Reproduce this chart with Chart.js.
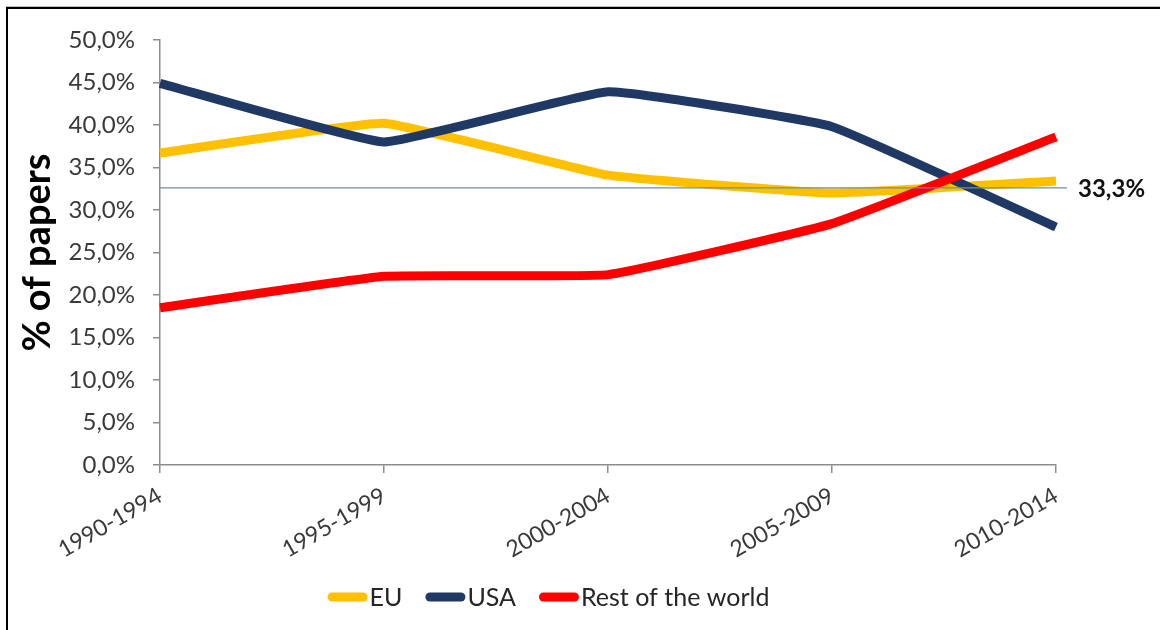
<!DOCTYPE html>
<html>
<head>
<meta charset="utf-8">
<script src="https://cdn.jsdelivr.net/npm/chart.js@4/dist/chart.umd.min.js"></script>
<style>
  html, body { margin: 0; padding: 0; background: #fff; }
  #wrap { position: relative; width: 1160px; height: 630px; overflow: hidden; }
  #frame { position: absolute; left: 6px; top: 7px; width: 2000px; height: 2000px;
           border-top: 2px solid #000; border-left: 2px solid #000;
           box-shadow: 0 -1px 0 #bdbdbd; }
  canvas { position: absolute; left: 0; top: 0; }
</style>
</head>
<body>
<div id="wrap">
  <div id="frame"></div>
  <canvas id="c" width="1160" height="630"></canvas>
</div>
<script>
const categories = ['1990-1994', '1995-1999', '2000-2004', '2005-2009', '2010-2014'];
const euValues   = [36.7, 40.2, 34.1, 32.0, 33.4];
const usaValues  = [44.9, 38.0, 43.9, 39.8, 28.0];
const rowValues  = [18.5, 22.2, 22.4, 28.4, 38.6];
const seriesNames = ['EU', 'USA', 'Rest of the world'];
const referenceValue = 32.6;
const referenceLabel = '33,3%';
const yTickValues = [0, 5, 10, 15, 20, 25, 30, 35, 40, 45, 50];

const FONT = 'Lato, "Open Sans", sans-serif';
const COLORS = ['#FFC000', '#1F3864', '#FF0000'];

const refLinePlugin = {
  id: 'refLine',
  afterDatasetsDraw(chart) {
    const ctx = chart.ctx, ca = chart.chartArea, y = chart.scales.y.getPixelForValue(referenceValue);
    ctx.save();
    ctx.strokeStyle = '#6f8ea3';
    ctx.lineWidth = 1.2;
    ctx.beginPath();
    ctx.moveTo(ca.left, y);
    ctx.lineTo(ca.right + 11, y);
    ctx.stroke();
    ctx.fillStyle = '#111';
    ctx.font = 'bold 24px ' + FONT;
    ctx.textBaseline = 'middle';
    ctx.textAlign = 'left';
    ctx.fillText(referenceLabel, ca.right + 22, y + 1);
    ctx.restore();
  }
};

const legendPlugin = {
  id: 'customLegend',
  afterDraw(chart) {
    const ctx = chart.ctx;
    ctx.save();
    ctx.font = '25px ' + FONT;
    const sym = 40, gap = 2, itemGap = 23;
    const items = chart.data.datasets.slice().sort((a, b) => a.legendIndex - b.legendIndex);
    const widths = items.map(d => sym + gap + ctx.measureText(d.label).width);
    const total = widths.reduce((a, b) => a + b, 0) + itemGap * (items.length - 1);
    let x = 548.5 - total / 2;
    const y = 597;
    items.forEach((d, i) => {
      ctx.strokeStyle = d.borderColor;
      ctx.lineWidth = 9;
      ctx.lineCap = 'round';
      ctx.beginPath();
      ctx.moveTo(x + 4.5, y);
      ctx.lineTo(x + sym - 4.5, y);
      ctx.stroke();
      ctx.fillStyle = '#262626';
      ctx.textBaseline = 'middle';
      ctx.textAlign = 'left';
      ctx.fillText(d.label, x + sym + gap, y + 1);
      x += widths[i] + itemGap;
    });
    ctx.restore();
  }
};

const mk = (label, data, color, order, idx) => ({
  label, data, borderColor: color, backgroundColor: color,
  borderWidth: 9, pointRadius: 0, pointHoverRadius: 0, tension: 0.1,
  borderCapStyle: 'butt', borderJoinStyle: 'round', fill: false, order, legendIndex: idx, clip: false
});

new Chart(document.getElementById('c'), {
  type: 'line',
  data: {
    labels: categories,
    datasets: [
      mk(seriesNames[0], euValues, COLORS[0], 2, 0),
      mk(seriesNames[1], usaValues, COLORS[1], 1, 1),
      mk(seriesNames[2], rowValues, COLORS[2], 0, 2)
    ]
  },
  options: {
    responsive: false,
    animation: false,
    events: [],
    layout: { padding: { left: 0, right: 104, top: 40, bottom: 0 } },
    plugins: { legend: { display: false }, tooltip: { enabled: false } },
    scales: {
      x: {
        type: 'category',
        offset: false,
        afterFit(s) { s.height = 165; },
        grid: { display: true, drawOnChartArea: false, drawTicks: true, tickLength: 8, color: '#8c8c8c', lineWidth: 1.5 },
        border: { display: true, color: '#8c8c8c', width: 1.5 },
        ticks: { maxRotation: 30, minRotation: 30, autoSkip: false, padding: 9,
                 color: '#3a3a3a', font: { family: FONT, size: 23 } }
      },
      y: {
        min: 0, max: 50,
        afterFit(s) { s.width = 160; },
        afterBuildTicks(s) { s.ticks = yTickValues.map(v => ({ value: v })); },
        grid: { display: true, drawOnChartArea: false, drawTicks: true, tickLength: 7, color: '#8c8c8c', lineWidth: 1.5 },
        border: { display: true, color: '#8c8c8c', width: 1.5 },
        ticks: {
          padding: 18, color: '#3a3a3a', font: { family: FONT, size: 24 },
          callback: v => v.toFixed(1).replace('.', ',') + '%'
        },
        title: { display: true, text: '% of papers', color: '#000',
                 font: { family: FONT, size: 38, weight: 'bold' }, padding: { top: 15, bottom: 0 } }
      }
    }
  },
  plugins: [refLinePlugin, legendPlugin]
});
</script>
</body>
</html>
